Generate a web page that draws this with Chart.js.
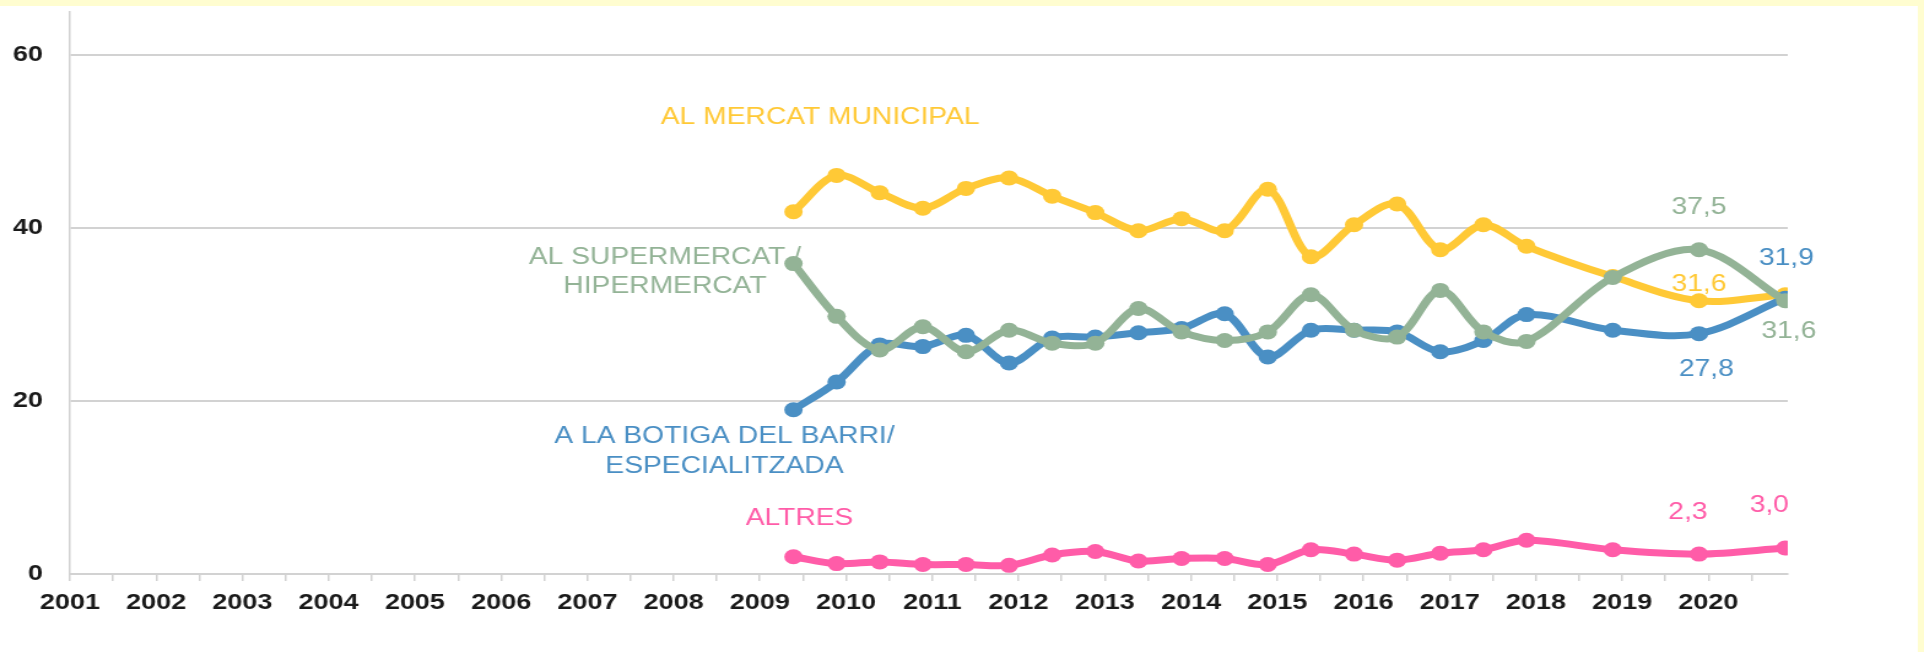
<!DOCTYPE html>
<html>
<head>
<meta charset="utf-8">
<title>On compra habitualment</title>
<script src="https://cdn.jsdelivr.net/npm/chart.js@4.4.1/dist/chart.umd.min.js"></script>
<style>
  html, body { margin: 0; padding: 0; background: #fff; overflow: hidden; }
  /* the original picture is a 1568 wide chart stretched to 1924 */
  #wrap { width: 1568px; height: 652px; transform: scaleX(1.22704); transform-origin: 0 0; }
  #lineChart { display: block; width: 1568px; height: 652px; }
</style>
</head>
<body>
<div id="wrap"><canvas id="lineChart" width="1568" height="652"></canvas></div>
<script>
// survey waves, as decimal years (spring / autumn waves, then yearly)
const waves = [2009.39, 2009.89, 2010.39, 2010.89, 2011.39, 2011.89, 2012.39, 2012.89,
  2013.39, 2013.89, 2014.39, 2014.89, 2015.39, 2015.89, 2016.39, 2016.89,
  2017.39, 2017.89, 2018.89, 2019.89, 2020.89];

// x axis labels and y axis ticks
const yearLabels = [2001, 2002, 2003, 2004, 2005, 2006, 2007, 2008, 2009, 2010,
  2011, 2012, 2013, 2014, 2015, 2016, 2017, 2018, 2019, 2020];
const yTicks = [0, 20, 40, 60];

// series (%)
const mercat = [41.9, 46.1, 44.1, 42.3, 44.6, 45.8, 43.7, 41.8, 39.7, 41.1, 39.7,
  44.5, 36.7, 40.4, 42.8, 37.5, 40.4, 37.9, 34.4, 31.6, 32.3];
const supermercat = [35.9, 29.8, 25.9, 28.6, 25.7, 28.2, 26.7, 26.7, 30.7, 28.0, 27.0,
  28.0, 32.3, 28.2, 27.4, 32.8, 28.0, 26.9, 34.3, 37.5, 31.6];
const botiga = [19.0, 22.2, 26.5, 26.3, 27.6, 24.4, 27.3, 27.4, 27.9, 28.4, 30.1,
  25.1, 28.2, 28.2, 28.0, 25.7, 27.0, 30.0, 28.2, 27.8, 31.9];
const altres = [2.0, 1.2, 1.4, 1.1, 1.1, 1.0, 2.2, 2.6, 1.5, 1.8, 1.8,
  1.1, 2.8, 2.3, 1.6, 2.4, 2.8, 3.9, 2.8, 2.3, 3.0];

const FONT = '"Liberation Sans", Arial, sans-serif';

function points(values) {
  return waves.map((t, i) => ({ x: t, y: values[i] }));
}

function serie(name, values, color, nameAt, lineGap) {
  return {
    label: name.join(' '),
    data: points(values),
    borderColor: color,
    backgroundColor: color,
    pointBackgroundColor: color,
    pointBorderWidth: 0,
    pointRadius: 7.5,
    borderWidth: 7,
    tension: 0.33,
    fill: false,
    // where the series name is written (in axis units)
    nameLines: name,
    nameAt: nameAt,
    lineGap: lineGap || 0
  };
}

const datasets = [
  serie(['AL SUPERMERCAT /', 'HIPERMERCAT'], supermercat, '#93b396', [2007.90, 36.55], 29),
  serie(['A LA BOTIGA DEL BARRI/', 'ESPECIALITZADA'], botiga, '#4a8fc4', [2008.59, 15.83], 30),
  serie(['AL MERCAT MUNICIPAL'], mercat, '#ffc936', [2009.70, 52.75]),
  serie(['ALTRES'], altres, '#ff5ca8', [2009.46, 6.40])
];

// value labels for the last waves: dataset, point, pixel offset
const valueNotes = [
  { ds: 0, i: 19, dx: 0, dy: -42 },
  { ds: 2, i: 19, dx: 0, dy: -16 },
  { ds: 1, i: 19, dx: 6, dy: 36 },
  { ds: 3, i: 19, dx: -9, dy: -41 },
  { ds: 1, i: 20, dx: 1, dy: -40 },
  { ds: 0, i: 20, dx: 3, dy: 31 },
  { ds: 3, i: 20, dx: -13, dy: -42 }
];

const textLabels = {
  id: 'textLabels',
  beforeDraw(chart) {
    const ctx = chart.ctx;
    ctx.save();
    ctx.fillStyle = '#ffffff';
    ctx.fillRect(0, 0, chart.width, chart.height);
    // pale yellow frame on top and right
    ctx.fillStyle = '#fffdd0';
    ctx.fillRect(0, 0, chart.width, 6);
    ctx.fillRect(chart.width - 5, 0, 5, chart.height);
    ctx.restore();
  },
  beforeDatasetsDraw(chart) {
    const ctx = chart.ctx;
    const xs = chart.scales.x, ys = chart.scales.y;
    ctx.save();
    ctx.font = '23px ' + FONT;
    ctx.textAlign = 'center';
    ctx.textBaseline = 'middle';
    chart.data.datasets.forEach(ds => {
      const x = xs.getPixelForValue(ds.nameAt[0]);
      const y = ys.getPixelForValue(ds.nameAt[1]);
      ctx.fillStyle = ds.borderColor;
      ds.nameLines.forEach((line, k) => ctx.fillText(line, x, y + k * ds.lineGap));
    });
    ctx.restore();
  },
  afterDatasetsDraw(chart) {
    const ctx = chart.ctx;
    ctx.save();
    ctx.font = '23px ' + FONT;
    ctx.textAlign = 'center';
    ctx.textBaseline = 'middle';
    valueNotes.forEach(n => {
      const ds = chart.data.datasets[n.ds];
      const pt = chart.getDatasetMeta(n.ds).data[n.i];
      ctx.fillStyle = ds.borderColor;
      ctx.fillText(ds.data[n.i].y.toFixed(1).replace('.', ','), pt.x + n.dx, pt.y + n.dy);
    });
    ctx.restore();
  }
};

function createChart() {
  const ctx = document.getElementById('lineChart');
  new Chart(ctx, {
    type: 'line',
    data: { datasets: datasets },
    options: {
      responsive: false,
      devicePixelRatio: 1,
      animation: false,
      layout: { padding: { left: 10.5, right: 111, top: 12, bottom: 38 } },
      plugins: {
        legend: { display: false },
        tooltip: { enabled: false }
      },
      scales: {
        x: {
          type: 'linear',
          min: yearLabels[0],
          max: 2020.92,
          afterBuildTicks(scale) {
            const t = [];
            yearLabels.forEach(y => { t.push({ value: y }); t.push({ value: y + 0.5 }); });
            scale.ticks = t;
          },
          // fixed axis band under the plot
          afterFit(scale) {
            scale.height = 40;
            scale.paddingLeft = 0;
            scale.paddingRight = 0;
          },
          ticks: {
            autoSkip: false,
            maxRotation: 0,
            minRotation: 0,
            padding: 11,
            color: '#1a1a1a',
            font: { family: FONT, size: 22, weight: 'bold', lineHeight: 1 },
            callback: v => Number.isInteger(v) ? String(v) : ''
          },
          grid: {
            drawOnChartArea: false,
            drawTicks: true,
            tickLength: 7,
            color: '#d2d2d2',
            lineWidth: 1.5
          },
          border: { color: '#d2d2d2', width: 2 }
        },
        y: {
          min: 0,
          max: 65,
          afterBuildTicks(scale) {
            scale.ticks = yTicks.map(v => ({ value: v }));
          },
          afterFit(scale) {
            scale.width = 46.5;
            scale.paddingTop = 0;
            scale.paddingBottom = 0;
          },
          ticks: {
            padding: 22,
            color: '#1a1a1a',
            font: { family: FONT, size: 22, weight: 'bold', lineHeight: 1 }
          },
          grid: {
            drawTicks: false,
            color: '#d2d2d2',
            lineWidth: 2
          },
          border: { color: '#d2d2d2', width: 1.5 }
        }
      }
    },
    plugins: [textLabels]
  });
}

if (typeof Chart === 'undefined') {
  window.addEventListener('load', createChart);
} else {
  createChart();
}
</script>
</body>
</html>
